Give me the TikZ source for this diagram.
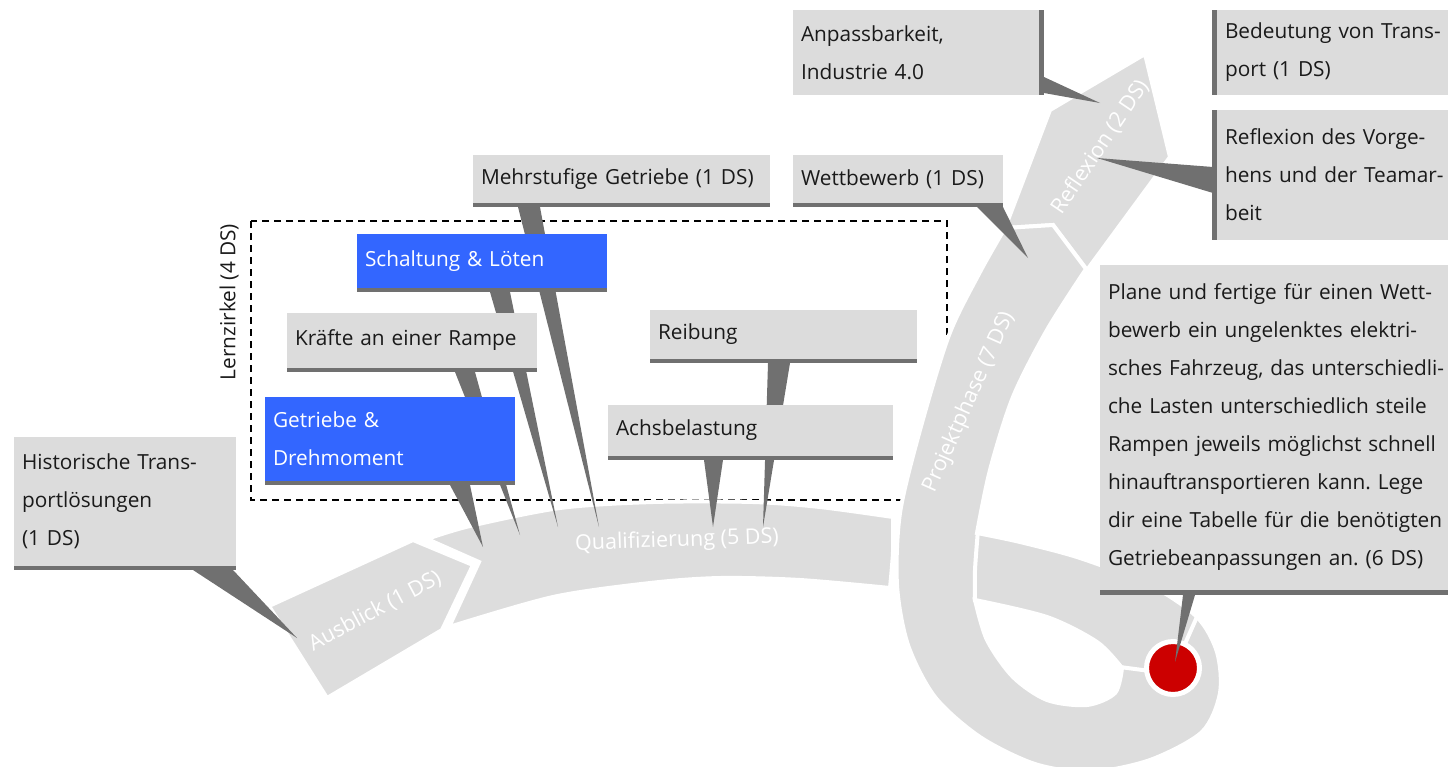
\documentclass[tikz,border=0pt]{standalone}
\usepackage{fontspec}
\setmainfont{Open Sans}
\usetikzlibrary{calc}
\definecolor{bandgray}{HTML}{DDDDDD}
\definecolor{boxgray}{HTML}{DCDCDC}
\definecolor{bargray}{HTML}{707070}
\definecolor{boxblue}{HTML}{3366FF}
\definecolor{dotred}{HTML}{CC0000}
\definecolor{txt}{HTML}{1A1A1A}
\frenchspacing
\begin{document}
\begin{tikzpicture}[x=1pt,y=-1pt,
  box/.style={fill=boxgray, anchor=north west, outer sep=0pt, inner ysep=0pt, inner xsep=8pt, align=left, text=txt, font=\fontsize{20.8}{38}\selectfont},
  bluebox/.style={box, fill=boxblue, text=white},
  bar/.style={fill=bargray},
  band/.style={fill=bandgray, draw=white, line width=4pt, line join=miter},
  bandlabel/.style={text=white, inner sep=0pt, font=\fontsize{21.5}{24}\selectfont},
  gapline/.style={draw=white, line width=4pt},
  frame/.style={draw=black, line width=1.5pt, dash pattern=on 7pt off 5pt}
]
\useasboundingbox (0,0) rectangle (1448,766);

% Lernzirkel frame
\draw[frame] (251,221) rectangle (947,500);
\node[rotate=90, text=txt, inner sep=0pt, font=\fontsize{20.8}{24}\selectfont] (lern) at (229,302) {Lernzirkel (4 DS)};

% bands
\path[band] (1005,228) -- (1050,110) -- (1145,54) -- (1170,157) -- (1087,270) -- (1053,225) -- cycle;
\path[band] (427,539) -- (479,562) -- (449,627)
  -- plot[smooth] coordinates {(449,627) (553,597) (650,583) (720,578) (800,580) (890,588)}
  -- plot[smooth] coordinates {(890,588) (893,552) (893,517)}
  -- plot[smooth] coordinates {(893,517) (820,507) (753,502) (653,502) (560,508) (470,526) (427,539)}
  -- cycle;
\path[band] (269,606) -- (413,540) -- (473,565) -- (442,630) -- (327,698) -- cycle;
\path[band, even odd rule] (1053,225) -- (1086,269)
  -- plot[smooth] coordinates {(1086,269) (1047,330) (1013,397) (990,470) (977,533)}
  -- plot[smooth] coordinates {(977,533) (1020,542) (1080,558) (1150,585) (1197,617) (1217,652) (1220,693) (1202,732) (1150,760) (1090,772) (1035,764) (980,737) (935,697) (908,645) (897,585) (900,513) (920,430) (949,335) (980,272) (1005,228)}
  -- cycle
  (975,600) -- plot[smooth] coordinates {(975,600) (1047,617) (1097,642) (1122,668)}
  -- plot[smooth] coordinates {(1122,668) (1115,693) (1087,705) (1047,700) (1013,677) (987,640) (975,600)} -- cycle;
\draw[gapline] plot[smooth] coordinates {(978,530) (975,570) (975,602)};
\draw[gapline] (1120,667) -- (1150,671);
\draw[gapline] (1184,646) -- (1200,610);
\node[circle, fill=dotred, draw=white, line width=5pt, minimum size=53pt, inner sep=0pt] (dot) at (1173,668) {};

% band labels
\node[bandlabel, rotate=28] (l-aus) at (375,611) {Ausblick (1 DS)};
\node[bandlabel, rotate=2] (l-qual) at (677,541) {Qualifizierung (5 DS)};
\node[bandlabel, rotate=66] (l-proj) at (969,402) {Projektphase (7 DS)};
\node[bandlabel, rotate=56] (l-refl) at (1100,147) {Reflexion (2 DS)};

% pointer tips
\coordinate (anp-tip) at (1100,103);
\coordinate (refl-tip) at (1097,158);
\coordinate (mehr-tip) at (599,527);
\coordinate (wett-tip) at (1028,258);
\coordinate (schalt-tip) at (558,527);
\coordinate (kraefte-tip) at (520,535);
\coordinate (getr-tip) at (483,547);
\coordinate (reib-tip) at (763,527);
\coordinate (achs-tip) at (713,527);
\coordinate (hist-tip) at (297,638);
\coordinate (plane-tip) at (1175,662);

% boxes
\node[box, text width=230pt, minimum height=85pt] (anp) at (793,10) {\mbox{Anpassbarkeit,}\\\mbox{Industrie 4.0}};
\fill[bar] (anp.north east) rectangle ($(anp.south east)+(5,0)$);
\fill[bar] ($(anp.south east)+(5,-18)$) -- ($(anp.south east)+(5,-2)$) -- (anp-tip) -- cycle;

\node[box, text width=215pt, minimum height=85pt] (bed) at (1217,10) {\mbox{Bedeutung von Trans-}\\\mbox{port (1 DS)}};
\fill[bar] ($(bed.north west)+(-5,0)$) rectangle (bed.south west);

\node[box, text width=215pt, minimum height=130pt] (refl) at (1217,110) {\mbox{Reflexion des Vorge-}\\\mbox{hens und der Teamar-}\\\mbox{beit}};
\fill[bar] ($(refl.north west)+(-5,0)$) rectangle (refl.south west);
\fill[bar] ($(refl.north west)+(-4,57)$) -- ($(refl.north west)+(-4,83)$) -- (refl-tip) -- cycle;

\node[box, text width=194pt, minimum height=48pt] (wett) at (793,155) {\mbox{Wettbewerb (1 DS)}};
\fill[bar] (wett.south west) rectangle ($(wett.south east)+(0,4)$);
\fill[bar] ($(wett.south east)+(-26,4)$) -- ($(wett.south east)+(0,4)$) -- (wett-tip) -- cycle;

\node[box, text width=281pt, minimum height=48pt] (mehr) at (473,155) {\mbox{Mehrstufige Getriebe (1 DS)}};
\fill[bar] (mehr.south west) rectangle ($(mehr.south east)+(0,4)$);
\fill[bar] ($(mehr.south west)+(45,4)$) -- ($(mehr.south west)+(67,4)$) -- (mehr-tip) -- cycle;

\node[bluebox, text width=234pt, minimum height=54pt] (schalt) at (357,234) {\mbox{Schaltung \& Löten}};
\fill[bar] (schalt.south west) rectangle ($(schalt.south east)+(0,4)$);
\fill[bar] ($(schalt.south west)+(133,4)$) -- ($(schalt.south west)+(153,4)$) -- (schalt-tip) -- cycle;

\node[box, text width=234pt, minimum height=55pt] (kraefte) at (287,313) {\mbox{Kräfte an einer Rampe}};
\fill[bar] (kraefte.south west) rectangle ($(kraefte.south east)+(0,4)$);
\fill[bar] ($(kraefte.south west)+(168,4)$) -- ($(kraefte.south west)+(188,4)$) -- (kraefte-tip) -- cycle;

\node[bluebox, text width=234pt, minimum height=84pt] (getr) at (265,397) {\mbox{Getriebe \&}\\\mbox{Drehmoment}};
\fill[bar] (getr.south west) rectangle ($(getr.south east)+(0,4)$);
\fill[bar] ($(getr.south west)+(185,4)$) -- ($(getr.south west)+(205,4)$) -- (getr-tip) -- cycle;

\node[box, text width=251pt, minimum height=49pt] (reib) at (650,310) {\mbox{Reibung}};
\fill[bar] (reib.south west) rectangle ($(reib.south east)+(0,4)$);
\fill[bar] ($(reib.south west)+(118,4)$) -- ($(reib.south west)+(140,4)$) -- (reib-tip) -- cycle;

\node[box, text width=269pt, minimum height=51pt] (achs) at (608,405) {\mbox{Achsbelastung}};
\fill[bar] (achs.south west) rectangle ($(achs.south east)+(0,4)$);
\fill[bar] ($(achs.south west)+(96,4)$) -- ($(achs.south west)+(115,4)$) -- (achs-tip) -- cycle;

\node[box, text width=206pt, minimum height=129pt] (hist) at (14,437) {\mbox{Historische Trans-}\\\mbox{portlösungen}\\\mbox{(1 DS)}};
\fill[bar] (hist.south west) rectangle ($(hist.south east)+(0,4)$);
\fill[bar] ($(hist.south west)+(179,4)$) -- ($(hist.south west)+(219,4)$) -- (hist-tip) -- cycle;

\node[box, text width=332pt, minimum height=325pt] (plane) at (1100,265) {\mbox{Plane und fertige für einen Wett-}\\\mbox{bewerb ein ungelenktes elektri-}\\\mbox{sches Fahrzeug, das unterschiedli-}\\\mbox{che Lasten unterschiedlich steile}\\\mbox{Rampen jeweils möglichst schnell}\\\mbox{hinauftransportieren kann. Lege}\\\mbox{dir eine Tabelle für die benötigten}\\\mbox{Getriebeanpassungen an. (6 DS)}};
\fill[bar] (plane.south west) rectangle ($(plane.south east)+(0,5)$);
\fill[bar] ($(plane.south west)+(83,5)$) -- ($(plane.south west)+(95,5)$) -- (plane-tip) -- cycle;
\end{tikzpicture}
\end{document}
